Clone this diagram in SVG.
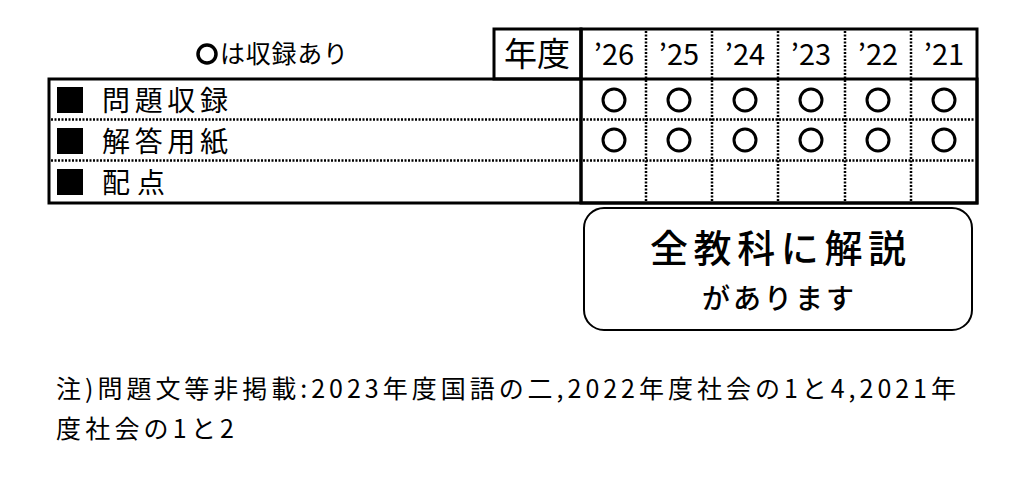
<svg xmlns="http://www.w3.org/2000/svg" width="1028" height="498" viewBox="0 0 1028 498">
<style>
text{font-family:"Noto Sans CJK JP","Liberation Sans",sans-serif;fill:#000}
.yr{font-family:"Liberation Sans Narrow","Liberation Sans","Noto Sans CJK JP",sans-serif;font-size:29px;text-anchor:middle}
.dot{stroke:#000;stroke-width:2.5;stroke-dasharray:2 1.5;fill:none}
.solid{stroke:#000;stroke-width:3;fill:none}
.circ{stroke:#000;stroke-width:3;fill:none}
.lbl{font-size:28px}
</style>
<rect width="1028" height="498" fill="#fff"/>
<g id="table">
<circle cx="207" cy="54" r="9" fill="none" stroke="#000" stroke-width="3.5"/>
<text x="220" y="63" font-size="25" textLength="128">は収録あり</text>
<rect class="solid" x="494" y="29" width="87" height="50"/>
<text x="537" y="66" font-size="33" text-anchor="middle">年度</text>
<rect class="solid" x="581" y="29" width="396" height="174"/>
<rect class="solid" x="49" y="79" width="928" height="124"/>
<line class="solid" x1="581" y1="29" x2="581" y2="203"/>
<g class="dot">
<line x1="51" y1="119.5" x2="975" y2="119.5"/>
<line x1="51" y1="160.5" x2="975" y2="160.5"/>
<line x1="646" y1="31" x2="646" y2="201"/>
<line x1="712" y1="31" x2="712" y2="201"/>
<line x1="778" y1="31" x2="778" y2="201"/>
<line x1="845" y1="31" x2="845" y2="201"/>
<line x1="911" y1="31" x2="911" y2="201"/>
</g>
<g class="yr">
<text x="614" y="65">’26</text><text x="679" y="65">’25</text><text x="745" y="65">’24</text>
<text x="811" y="65">’23</text><text x="878" y="65">’22</text><text x="944" y="65">’21</text>
</g>
<g class="circ">
<circle cx="614" cy="100" r="11"/><circle cx="679" cy="100" r="11"/><circle cx="745" cy="100" r="11"/>
<circle cx="811" cy="100" r="11"/><circle cx="878" cy="100" r="11"/><circle cx="944" cy="100" r="11"/>
<circle cx="614" cy="140" r="11"/><circle cx="679" cy="140" r="11"/><circle cx="745" cy="140" r="11"/>
<circle cx="811" cy="140" r="11"/><circle cx="878" cy="140" r="11"/><circle cx="944" cy="140" r="11"/>
</g>
<rect x="57" y="87" width="26" height="26"/><rect x="57" y="128" width="26" height="26"/><rect x="57" y="169" width="26" height="26"/>
<text class="lbl" x="102" y="111" textLength="126">問題収録</text>
<text class="lbl" x="102" y="152" textLength="126">解答用紙</text>
<text class="lbl" x="102" y="193" textLength="63">配点</text>
</g>
<g id="note-box">
<rect x="584" y="208" width="388" height="122" rx="20" fill="#fff" stroke="#000" stroke-width="2"/>
<text x="650" y="262" font-size="38" font-weight="500" textLength="256">全教科に解説</text>
<text x="702" y="309" font-size="28" font-weight="500" textLength="152">があります</text>
</g>
<g id="footnote">
<text x="56" y="398" font-size="25" textLength="900">注)問題文等非掲載:2023年度国語の二,2022年度社会の1と4,2021年</text>
<text x="56" y="438" font-size="25" textLength="178">度社会の1と2</text>
</g>
</svg>
